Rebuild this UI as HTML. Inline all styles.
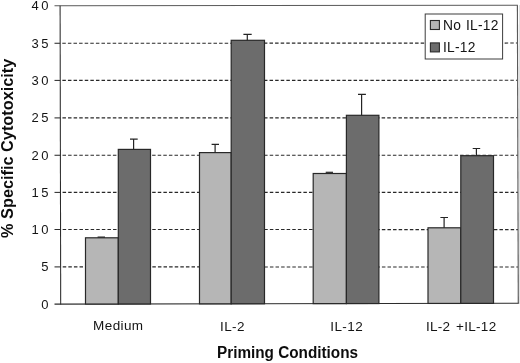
<!DOCTYPE html>
<html>
<head>
<meta charset="utf-8">
<title>Chart</title>
<style>
html,body{margin:0;padding:0;background:#fff;}
body{width:520px;height:363px;overflow:hidden;font-family:"Liberation Sans",sans-serif;}
svg{display:block;will-change:transform;}
text{font-family:"Liberation Sans",sans-serif;fill:#141414;}
.tick{font-size:13px;letter-spacing:2.6px;}
.cat{font-size:13.5px;letter-spacing:0.4px;}
.ttl{font-size:16px;font-weight:bold;fill:#0c0c0c;}
.leg{font-size:13.8px;letter-spacing:0.25px;word-spacing:0.8px;}
</style>
</head>
<body>
<svg width="520" height="363" viewBox="0 0 520 363">
<rect x="0" y="0" width="520" height="363" fill="#ffffff"/>
<line x1="519.6" y1="5" x2="519.6" y2="304" stroke="#dedede" stroke-width="1"/>
<g stroke="#282828" stroke-width="1.12" stroke-dasharray="3.5 2.1" stroke-dashoffset="3.5" fill="none">
<line x1="60.18" y1="43.26" x2="518" y2="43.06"/>
<line x1="60.25" y1="80.4" x2="518" y2="80.3"/>
<line x1="60.33" y1="117.9" x2="518" y2="117.8"/>
<line x1="60.40" y1="155.26" x2="518" y2="155.2"/>
<line x1="60.48" y1="192.4" x2="518" y2="192.4"/>
<line x1="60.55" y1="229.5" x2="518" y2="229.6"/>
<line x1="60.63" y1="266.9" x2="518" y2="267.0"/>
</g>
<g stroke="#5a5a5a" stroke-width="1.15" fill="none">
<line x1="54.5" y1="5.8" x2="517.9" y2="5.2"/>
<line x1="517.4" y1="5.2" x2="518.3" y2="303.3"/>
</g>
<g stroke="#2c2c2c" stroke-width="1.05" fill="none">
<line x1="60.1" y1="5.8" x2="60.7" y2="304.6"/>
<line x1="54.5" y1="304.1" x2="518.8" y2="303.3"/>
<line x1="54.5" y1="43.26" x2="60.18" y2="43.26"/>
<line x1="54.5" y1="80.4" x2="60.25" y2="80.4"/>
<line x1="54.5" y1="117.9" x2="60.33" y2="117.9"/>
<line x1="54.5" y1="155.26" x2="60.40" y2="155.26"/>
<line x1="54.5" y1="192.4" x2="60.48" y2="192.4"/>
<line x1="54.5" y1="229.5" x2="60.55" y2="229.5"/>
<line x1="54.5" y1="266.9" x2="60.63" y2="266.9"/>
</g>
<g stroke="#282828" stroke-width="1.2">
<rect x="85.50" y="237.8" width="32.80" height="66.23" fill="#b6b6b6"/>
<rect x="118.30" y="149.4" width="32.20" height="154.57" fill="#6c6c6c"/>
<rect x="199.50" y="152.6" width="31.70" height="151.23" fill="#b6b6b6"/>
<rect x="231.20" y="40.3" width="33.30" height="263.47" fill="#6c6c6c"/>
<rect x="313.20" y="173.5" width="33.20" height="130.13" fill="#b6b6b6"/>
<rect x="346.40" y="115.3" width="32.50" height="188.27" fill="#6c6c6c"/>
<rect x="428.00" y="227.8" width="32.80" height="75.63" fill="#b6b6b6"/>
<rect x="460.80" y="155.7" width="32.70" height="147.67" fill="#6c6c6c"/>
</g>
<g stroke="#242424" stroke-width="1.2" fill="none">
<path d="M97.6 237.1H105.0"/>
<path d="M130.0 139.2H137.7M133.6 139.2V149.4"/>
<path d="M211.6 144.4H219.0M215.1 144.4V152.6"/>
<path d="M243.4 34.35H251.7M247.3 34.35V40.3"/>
<path d="M325.7 172.3H333.0"/>
<path d="M358.0 94.35H365.9M361.6 94.35V115.3"/>
<path d="M440.4 217.5H448.0M444.1 217.5V227.8"/>
<path d="M472.7 148.5H480.2M476.4 148.5V155.7"/>
</g>
<rect x="425.2" y="14" width="77.4" height="45" fill="#fff" stroke="#3c3c3c" stroke-width="1"/>
<rect x="430.4" y="20.5" width="9" height="9" fill="#b6b6b6" stroke="#2a2a2a" stroke-width="1.1"/>
<rect x="430.4" y="42.9" width="9" height="9" fill="#6c6c6c" stroke="#2a2a2a" stroke-width="1.1"/>
<text class="leg" x="443.0" y="29.5">No IL-12</text>
<text class="leg" x="443.0" y="51.6">IL-12</text>
<g class="tick" text-anchor="end">
<text x="51.2" y="10.2">40</text>
<text x="51.2" y="47.7">35</text>
<text x="51.2" y="84.8">30</text>
<text x="51.2" y="122.3">25</text>
<text x="51.2" y="159.7">20</text>
<text x="51.2" y="196.8">15</text>
<text x="51.2" y="233.9">10</text>
<text x="51.2" y="271.3">5</text>
<text x="51.2" y="308.5">0</text>
</g>
<g class="cat" text-anchor="middle">
<text x="118.3" y="330.3">Medium</text>
<text x="232.5" y="330.7">IL-2</text>
<text x="346.7" y="330.7">IL-12</text>
<text x="461.2" y="330.7" style="letter-spacing:0.3px">IL-2 <tspan dx="1.6">+IL-12</tspan></text>
</g>
<text class="ttl" x="287.5" y="358" text-anchor="middle" textLength="141" lengthAdjust="spacingAndGlyphs">Priming Conditions</text>
<text class="ttl" transform="translate(13.2,148.3) rotate(-90)" text-anchor="middle" textLength="179.2" lengthAdjust="spacingAndGlyphs">% Specific Cytotoxicity</text>
</svg>
</body>
</html>
